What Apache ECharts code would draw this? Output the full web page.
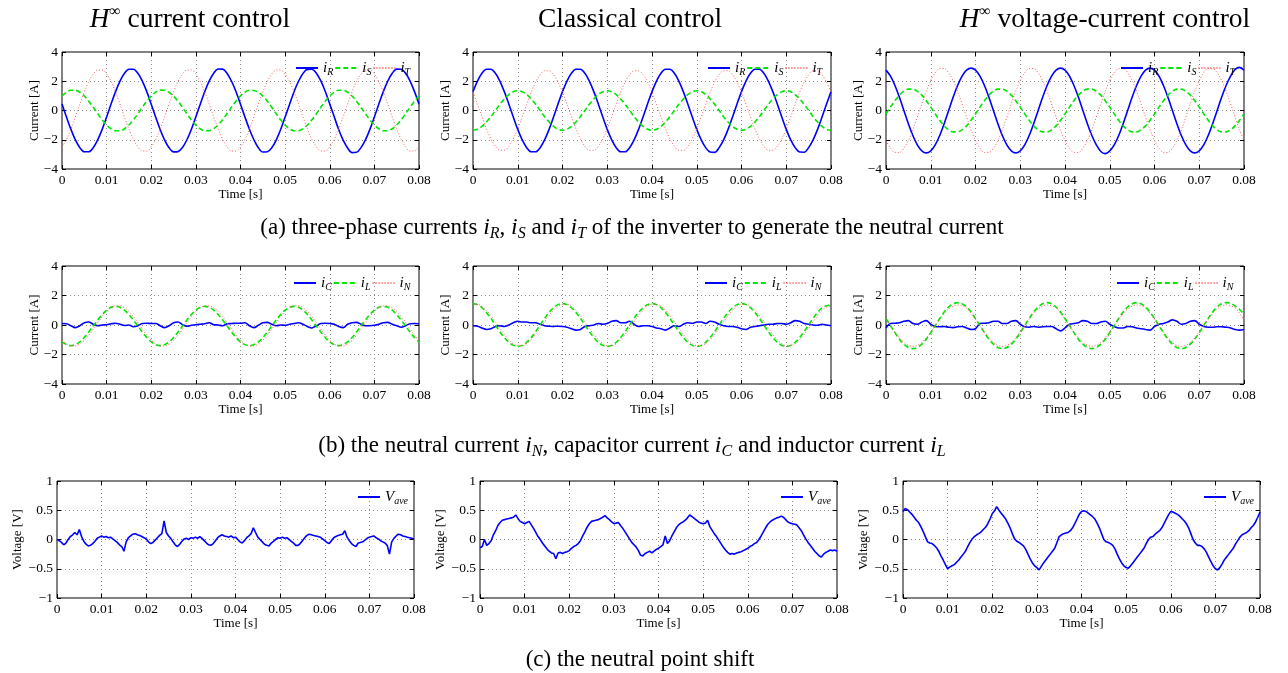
<!DOCTYPE html>
<html>
<head>
<meta charset="utf-8">
<script src="https://cdn.jsdelivr.net/npm/echarts@6/dist/echarts.min.js"></script>
<style>
html,body{margin:0;padding:0;background:#fff;}
#chart{width:1288px;height:673px;}
</style>
</head>
<body>
<div id="chart"></div>
<script>
// ---------------- texts & ticks ----------------
const columnTitles = ['{h|H}{p|∞} current control', 'Classical control', '{h|H}{p|∞} voltage-current control'];
const captionA = '(a) three-phase currents {i|i}{s|R}, {i|i}{s|S} and {i|i}{s|T} of the inverter to generate the neutral current';
const captionB = '(b) the neutral current {i|i}{s|N}, capacitor current {i|i}{s|C} and inductor current {i|i}{s|L}';
const captionC = '(c) the neutral point shift';
const xTickLabels = ['0', '0.01', '0.02', '0.03', '0.04', '0.05', '0.06', '0.07', '0.08'];
const currentTicks = [-4, -2, 0, 2, 4];
const voltageTicks = [-1, -0.5, 0, 0.5, 1];
const stepCurrent = 0.001;   // s, sampling of rows (a) and (b)
const stepShift = 0.0005;    // s, sampling of row (c)

// ---------------- (a) three-phase currents ----------------
const iR_hinf = [0.44,-0.44,-1.29,-2.01,-2.54,-2.82,-2.82,-2.54,-2.01,-1.29,-0.44,0.44,1.29,2.01,2.54,2.82,2.82,2.54,2.01,1.29,
0.42,-0.46,-1.30,-2.02,-2.55,-2.83,-2.81,-2.53,-2.00,-1.28,-0.43,0.45,1.30,2.02,2.55,2.84,2.83,2.53,2.00,1.28,
0.43,-0.45,-1.28,-2.00,-2.55,-2.84,-2.82,-2.55,-2.02,-1.30,-0.45,0.43,1.28,2.00,2.53,2.81,2.82,2.55,2.02,1.30,
0.45,-0.43,-1.30,-2.03,-2.56,-2.88,-2.86,-2.54,-2.01,-1.29,-0.44,0.44,1.29,2.01,2.54,2.83,2.82,2.54,2.01,1.29,0.42];
const iS_hinf = [0.99,1.25,1.38,1.38,1.25,0.99,0.64,0.22,-0.22,-0.64,-0.99,-1.25,-1.38,-1.38,-1.25,-0.99,-0.64,-0.22,0.22,0.64,
0.99,1.26,1.39,1.38,1.24,0.98,0.63,0.21,-0.23,-0.65,-1.00,-1.26,-1.39,-1.38,-1.24,-0.98,-0.63,-0.21,0.23,0.65,
1.00,1.25,1.38,1.37,1.24,0.99,0.64,0.22,-0.22,-0.64,-0.99,-1.25,-1.38,-1.38,-1.25,-0.99,-0.64,-0.22,0.22,0.64,
0.99,1.25,1.38,1.38,1.25,0.99,0.64,0.22,-0.22,-0.64,-0.99,-1.25,-1.38,-1.38,-1.25,-0.99,-0.64,-0.22,0.22,0.64,0.99];
const iT_hinf = [-2.49,-1.98,-1.27,-0.44,0.44,1.27,1.98,2.49,2.77,2.77,2.49,1.98,1.27,0.44,-0.44,-1.27,-1.98,-2.49,-2.77,-2.77,
-2.49,-1.98,-1.27,-0.44,0.44,1.27,1.98,2.49,2.77,2.77,2.49,1.98,1.27,0.44,-0.44,-1.27,-1.98,-2.49,-2.77,-2.77,
-2.49,-1.98,-1.27,-0.44,0.44,1.27,1.98,2.49,2.77,2.77,2.49,1.98,1.27,0.44,-0.44,-1.27,-1.98,-2.49,-2.77,-2.77,
-2.49,-1.98,-1.27,-0.44,0.44,1.27,1.98,2.49,2.77,2.77,2.49,1.98,1.27,0.44,-0.44,-1.27,-1.98,-2.49,-2.77,-2.77,-2.49];

const iR_classic = [1.29,2.01,2.54,2.82,2.82,2.54,2.01,1.29,0.44,-0.44,-1.29,-2.01,-2.54,-2.82,-2.82,-2.54,-2.01,-1.29,-0.44,0.44,
1.29,2.01,2.54,2.82,2.82,2.54,2.01,1.29,0.44,-0.44,-1.29,-2.01,-2.54,-2.82,-2.82,-2.54,-2.01,-1.29,-0.44,0.44,
1.29,2.01,2.54,2.82,2.82,2.54,2.01,1.29,0.44,-0.44,-1.29,-2.01,-2.54,-2.84,-2.86,-2.54,-2.01,-1.29,-0.44,0.44,
1.29,2.01,2.54,2.82,2.82,2.54,2.01,1.29,0.44,-0.44,-1.29,-2.01,-2.54,-2.84,-2.85,-2.54,-2.01,-1.29,-0.44,0.44,1.29];
const iS_classic = [-1.35,-1.28,-1.09,-0.79,-0.42,0.00,0.42,0.79,1.09,1.28,1.35,1.28,1.09,0.79,0.42,0.00,-0.42,-0.79,-1.09,-1.28,
-1.35,-1.28,-1.09,-0.79,-0.42,0.00,0.42,0.79,1.09,1.28,1.35,1.28,1.09,0.79,0.42,0.00,-0.42,-0.79,-1.09,-1.28,
-1.35,-1.28,-1.09,-0.79,-0.42,0.00,0.42,0.79,1.09,1.28,1.35,1.28,1.09,0.79,0.42,0.00,-0.42,-0.79,-1.09,-1.28,
-1.35,-1.28,-1.09,-0.79,-0.42,0.00,0.42,0.79,1.09,1.28,1.35,1.28,1.09,0.79,0.42,0.00,-0.42,-0.79,-1.09,-1.28,-1.35];
const iT_classic = [1.25,0.43,-0.43,-1.25,-1.94,-2.45,-2.72,-2.72,-2.45,-1.94,-1.25,-0.43,0.43,1.25,1.94,2.45,2.72,2.72,2.45,1.94,
1.25,0.43,-0.43,-1.25,-1.94,-2.45,-2.72,-2.72,-2.45,-1.94,-1.25,-0.43,0.43,1.25,1.94,2.45,2.72,2.72,2.45,1.94,
1.25,0.43,-0.43,-1.25,-1.94,-2.45,-2.72,-2.72,-2.45,-1.94,-1.25,-0.43,0.43,1.25,1.94,2.45,2.72,2.72,2.45,1.94,
1.25,0.43,-0.43,-1.25,-1.94,-2.45,-2.72,-2.72,-2.45,-1.94,-1.25,-0.43,0.43,1.25,1.94,2.45,2.72,2.72,2.45,1.94,1.25];

const iR_vc = [2.76,2.35,1.71,0.90,0.00,-0.90,-1.71,-2.35,-2.76,-2.90,-2.76,-2.35,-1.71,-0.90,0.00,0.90,1.71,2.35,2.76,2.90,
2.76,2.35,1.71,0.90,0.00,-0.90,-1.71,-2.35,-2.76,-2.90,-2.76,-2.35,-1.71,-0.90,0.00,0.90,1.71,2.35,2.76,2.90,
2.76,2.35,1.71,0.90,0.00,-0.90,-1.71,-2.35,-2.80,-2.95,-2.76,-2.35,-1.71,-0.90,0.00,0.90,1.71,2.35,2.76,2.90,
2.76,2.35,1.71,0.90,0.00,-0.90,-1.71,-2.35,-2.76,-2.90,-2.76,-2.35,-1.71,-0.90,0.00,0.90,1.71,2.35,2.80,2.95,2.76];
const iS_vc = [-0.23,0.23,0.67,1.05,1.32,1.46,1.46,1.32,1.05,0.67,0.23,-0.23,-0.67,-1.05,-1.32,-1.46,-1.46,-1.32,-1.05,-0.67,
-0.23,0.23,0.67,1.05,1.32,1.46,1.46,1.32,1.05,0.67,0.23,-0.23,-0.67,-1.05,-1.32,-1.46,-1.46,-1.32,-1.05,-0.67,
-0.23,0.23,0.67,1.05,1.32,1.46,1.46,1.32,1.05,0.67,0.23,-0.23,-0.67,-1.05,-1.32,-1.46,-1.46,-1.32,-1.05,-0.67,
-0.23,0.23,0.67,1.05,1.32,1.46,1.46,1.32,1.05,0.67,0.23,-0.23,-0.67,-1.05,-1.32,-1.46,-1.46,-1.32,-1.05,-0.67,-0.23];
const iT_vc = [-2.05,-2.58,-2.87,-2.87,-2.58,-2.05,-1.32,-0.45,0.45,1.32,2.05,2.58,2.87,2.87,2.58,2.05,1.32,0.45,-0.45,-1.32,
-2.05,-2.58,-2.87,-2.87,-2.58,-2.05,-1.32,-0.45,0.45,1.32,2.05,2.58,2.87,2.87,2.58,2.05,1.32,0.45,-0.45,-1.32,
-2.05,-2.58,-2.87,-2.87,-2.58,-2.05,-1.32,-0.45,0.45,1.32,2.05,2.58,2.87,2.87,2.58,2.05,1.32,0.45,-0.45,-1.32,
-2.05,-2.58,-2.87,-2.87,-2.58,-2.05,-1.32,-0.45,0.45,1.32,2.05,2.58,2.87,2.87,2.58,2.05,1.32,0.45,-0.45,-1.32,-2.05];

// ---------------- (b) neutral, capacitor, inductor currents ----------------
const iC_hinf = [0.10,0.08,-0.05,-0.18,-0.05,0.15,0.20,0.05,-0.05,0.00,
0.02,0.08,0.12,0.05,-0.03,0.00,-0.12,-0.05,0.10,0.12,
0.10,0.10,-0.05,-0.18,-0.05,0.15,0.20,0.02,-0.08,-0.02,
0.02,0.05,0.08,0.15,0.02,0.00,-0.05,0.08,0.10,0.12,
0.12,0.15,-0.05,-0.18,-0.02,0.15,0.18,0.05,-0.05,0.00,
-0.02,0.05,0.10,0.15,0.05,-0.10,-0.20,-0.05,0.10,0.12,
0.10,0.05,-0.10,-0.18,0.05,0.15,0.18,0.05,-0.05,-0.05,
-0.02,0.05,0.15,0.18,0.05,-0.05,-0.15,-0.05,0.08,0.10,0.08];
const iL_hinf = [-1.15,-1.33,-1.40,-1.33,-1.15,-0.85,-0.48,-0.07,0.34,0.71,1.01,1.20,1.26,1.20,1.01,0.71,0.34,-0.07,-0.48,-0.85,
-1.15,-1.33,-1.40,-1.33,-1.15,-0.85,-0.48,-0.07,0.34,0.71,1.01,1.20,1.26,1.20,1.01,0.71,0.34,-0.07,-0.48,-0.85,
-1.15,-1.33,-1.40,-1.33,-1.15,-0.85,-0.48,-0.07,0.34,0.71,1.01,1.20,1.26,1.20,1.01,0.71,0.34,-0.07,-0.48,-0.85,
-1.15,-1.33,-1.40,-1.33,-1.15,-0.85,-0.48,-0.07,0.34,0.71,1.01,1.20,1.26,1.20,1.01,0.71,0.34,-0.07,-0.48,-0.85,-1.15];
const iN_hinf = [-1.04,-1.29,-1.42,-1.42,-1.29,-1.04,-0.69,-0.28,0.16,0.57,0.92,1.17,1.30,1.30,1.17,0.92,0.57,0.16,-0.28,-0.69,
-1.04,-1.29,-1.42,-1.42,-1.29,-1.04,-0.69,-0.28,0.16,0.57,0.92,1.17,1.30,1.30,1.17,0.92,0.57,0.16,-0.28,-0.69,
-1.04,-1.29,-1.42,-1.42,-1.29,-1.04,-0.69,-0.28,0.16,0.57,0.92,1.17,1.30,1.30,1.17,0.92,0.57,0.16,-0.28,-0.69,
-1.04,-1.29,-1.42,-1.42,-1.29,-1.04,-0.69,-0.28,0.16,0.57,0.92,1.17,1.30,1.30,1.17,0.92,0.57,0.16,-0.28,-0.69,-1.04];

const iC_classic = [-0.05,-0.08,-0.20,-0.30,-0.25,-0.10,-0.05,-0.10,0.00,0.15,
0.25,0.20,0.20,0.15,0.15,0.05,-0.05,-0.08,-0.10,-0.08,
-0.10,-0.15,-0.25,-0.35,-0.30,-0.10,-0.05,0.00,0.10,0.05,
0.10,0.25,0.30,0.15,0.15,0.25,0.05,-0.10,-0.05,-0.05,
-0.10,-0.20,-0.25,-0.35,-0.20,-0.05,-0.10,0.05,0.15,0.12,
0.20,0.20,0.10,0.25,0.20,0.05,-0.05,-0.10,-0.10,-0.15,
-0.25,-0.30,-0.15,-0.10,-0.05,0.00,0.05,0.05,0.10,0.10,
0.05,0.15,0.30,0.25,0.10,0.05,0.00,-0.02,0.05,0.00,-0.05];
const iL_classic = [1.45,1.38,1.17,0.85,0.45,0.00,-0.45,-0.85,-1.17,-1.38,-1.45,-1.38,-1.17,-0.85,-0.45,0.00,0.45,0.85,1.17,1.38,
1.45,1.38,1.17,0.85,0.45,0.00,-0.45,-0.85,-1.17,-1.38,-1.45,-1.38,-1.17,-0.85,-0.45,0.00,0.45,0.85,1.17,1.38,
1.45,1.38,1.17,0.85,0.45,0.00,-0.45,-0.85,-1.17,-1.38,-1.45,-1.38,-1.17,-0.85,-0.45,0.00,0.45,0.85,1.17,1.38,
1.45,1.38,1.17,0.85,0.45,0.00,-0.45,-0.85,-1.17,-1.38,-1.45,-1.38,-1.17,-0.85,-0.45,0.00,0.45,0.85,1.17,1.30,1.35];
const iN_classic = [1.40,1.40,1.27,1.00,0.64,0.22,-0.22,-0.64,-1.00,-1.27,-1.40,-1.40,-1.27,-1.00,-0.64,-0.22,0.22,0.64,1.00,1.27,
1.40,1.40,1.27,1.00,0.64,0.22,-0.22,-0.64,-1.00,-1.27,-1.40,-1.40,-1.27,-1.00,-0.64,-0.22,0.22,0.64,1.00,1.27,
1.40,1.40,1.27,1.00,0.64,0.22,-0.22,-0.64,-1.00,-1.27,-1.40,-1.40,-1.27,-1.00,-0.64,-0.22,0.22,0.64,1.00,1.27,
1.40,1.40,1.27,1.00,0.64,0.22,-0.22,-0.64,-1.00,-1.27,-1.40,-1.40,-1.27,-1.00,-0.64,-0.22,0.22,0.64,1.00,1.22,1.30];

const iC_vc = [-0.20,0.10,0.12,0.15,0.25,0.30,0.10,0.05,0.20,0.30,
0.05,-0.10,-0.12,-0.10,-0.15,-0.18,-0.12,-0.10,-0.20,-0.30,
-0.25,0.10,0.12,0.15,0.25,0.25,0.10,0.10,0.25,0.30,
0.05,-0.12,-0.15,-0.10,-0.15,-0.12,-0.10,-0.10,-0.25,-0.40,
-0.20,0.05,0.10,0.15,0.30,0.25,0.10,0.10,0.20,0.25,
0.05,-0.10,-0.20,-0.20,-0.10,-0.12,-0.20,-0.25,-0.30,-0.35,
-0.10,0.05,0.10,0.20,0.35,0.25,0.05,0.10,0.25,0.30,
0.05,-0.10,-0.15,-0.15,-0.12,-0.12,-0.15,-0.20,-0.30,-0.35,-0.30];
const iL_vc = [0.44,-0.04,-0.52,-0.96,-1.30,-1.52,-1.60,-1.52,-1.30,-0.96,-0.52,-0.04,0.44,0.88,1.22,1.44,1.52,1.44,1.22,0.88,
0.44,-0.04,-0.52,-0.96,-1.30,-1.52,-1.60,-1.52,-1.30,-0.96,-0.52,-0.04,0.44,0.88,1.22,1.44,1.52,1.44,1.22,0.88,
0.44,-0.04,-0.52,-0.96,-1.30,-1.52,-1.60,-1.52,-1.30,-0.96,-0.52,-0.04,0.44,0.88,1.22,1.44,1.52,1.44,1.22,0.88,
0.44,-0.04,-0.52,-0.96,-1.30,-1.52,-1.60,-1.52,-1.30,-0.96,-0.52,-0.04,0.44,0.88,1.22,1.44,1.52,1.48,1.28,1.05,0.75];
const iN_vc = [0.38,-0.05,-0.48,-0.87,-1.18,-1.38,-1.45,-1.38,-1.18,-0.87,-0.48,-0.05,0.38,0.77,1.08,1.28,1.35,1.30,1.15,0.80,
0.38,-0.05,-0.48,-0.87,-1.18,-1.38,-1.45,-1.38,-1.18,-0.87,-0.48,-0.05,0.38,0.77,1.08,1.28,1.35,1.30,1.15,0.80,
0.38,-0.05,-0.48,-0.87,-1.18,-1.38,-1.45,-1.38,-1.18,-0.87,-0.48,-0.05,0.38,0.77,1.08,1.28,1.35,1.30,1.15,0.80,
0.38,-0.05,-0.48,-0.87,-1.18,-1.38,-1.45,-1.38,-1.18,-0.87,-0.48,-0.05,0.38,0.77,1.08,1.28,1.35,1.30,1.15,0.80,0.35];

// ---------------- (c) neutral point shift (0.5 ms samples) ----------------
const vAve_hinf = [0.00,-0.02,-0.05,-0.09,-0.06,0.00,0.05,0.08,0.12,0.08,
0.17,0.05,-0.03,-0.08,-0.11,-0.10,-0.07,-0.03,0.02,0.04,
0.06,0.04,0.05,0.03,0.04,0.01,-0.02,-0.05,-0.09,-0.12,
-0.20,-0.04,0.03,0.06,0.09,0.10,0.08,0.07,0.05,0.03,
0.01,-0.04,-0.07,-0.05,-0.01,0.03,0.07,0.10,0.32,0.12,
0.06,0.02,-0.04,-0.09,-0.12,-0.08,-0.03,0.01,0.02,0.00,
0.03,0.02,0.04,0.02,0.05,0.02,-0.02,-0.06,-0.09,-0.10,
-0.07,-0.02,0.03,0.06,0.08,0.06,0.05,0.04,0.06,0.03,
0.04,0.00,-0.04,-0.06,-0.02,0.03,0.06,0.10,0.20,0.12,
0.04,0.00,-0.04,-0.08,-0.10,-0.11,-0.06,-0.03,0.00,0.03,
0.02,0.04,0.02,0.03,0.00,-0.03,-0.06,-0.10,-0.10,-0.07,
-0.02,0.03,0.07,0.09,0.08,0.07,0.06,0.05,0.04,0.01,
-0.02,-0.05,-0.07,-0.02,0.03,0.05,0.07,0.08,0.09,0.15,
0.04,-0.02,-0.07,-0.10,-0.12,-0.06,-0.05,-0.04,-0.01,0.02,
0.04,0.05,0.06,0.03,0.01,-0.02,-0.04,-0.06,-0.10,-0.25,
-0.04,0.02,0.06,0.09,0.08,0.06,0.05,0.04,0.03,0.02,0.01];
const vAve_classic = [-0.14,-0.12,0.00,-0.10,-0.07,-0.02,0.08,0.15,0.24,0.29,
0.33,0.34,0.35,0.36,0.37,0.38,0.42,0.36,0.31,0.29,
0.27,0.29,0.31,0.25,0.19,0.12,0.05,0.00,-0.06,-0.11,
-0.16,-0.20,-0.23,-0.24,-0.33,-0.23,-0.22,-0.24,-0.22,-0.21,
-0.19,-0.15,-0.12,-0.10,-0.07,-0.02,0.06,0.13,0.21,0.27,
0.31,0.32,0.33,0.34,0.36,0.38,0.41,0.37,0.34,0.30,
0.27,0.28,0.29,0.24,0.19,0.13,0.07,0.01,-0.05,-0.09,
-0.13,-0.19,-0.27,-0.28,-0.24,-0.22,-0.20,-0.23,-0.20,-0.17,
-0.15,-0.12,-0.09,0.06,-0.07,-0.02,0.06,0.13,0.20,0.25,
0.28,0.30,0.33,0.37,0.42,0.39,0.36,0.33,0.30,0.28,
0.27,0.28,0.33,0.22,0.16,0.10,0.05,-0.01,-0.07,-0.13,
-0.18,-0.22,-0.25,-0.24,-0.25,-0.23,-0.22,-0.21,-0.19,-0.17,
-0.15,-0.12,-0.10,-0.07,-0.05,0.00,0.06,0.13,0.20,0.26,
0.30,0.33,0.35,0.37,0.38,0.40,0.38,0.34,0.30,0.28,
0.27,0.26,0.25,0.20,0.15,0.08,0.01,-0.05,-0.10,-0.15,
-0.20,-0.24,-0.28,-0.30,-0.25,-0.22,-0.20,-0.18,-0.19,-0.18,-0.20];
const vAve_vc = [0.48,0.53,0.51,0.47,0.43,0.38,0.33,0.29,0.22,0.14,
0.05,-0.04,-0.06,-0.07,-0.10,-0.14,-0.20,-0.28,-0.35,-0.43,
-0.50,-0.47,-0.45,-0.43,-0.39,-0.35,-0.30,-0.25,-0.20,-0.12,
-0.05,0.01,0.05,0.08,0.10,0.13,0.17,0.21,0.27,0.35,
0.44,0.49,0.56,0.50,0.45,0.40,0.35,0.28,0.20,0.10,
0.01,-0.03,-0.05,-0.08,-0.11,-0.17,-0.25,-0.33,-0.40,-0.45,
-0.48,-0.52,-0.46,-0.40,-0.35,-0.30,-0.25,-0.20,-0.15,-0.05,
0.05,0.08,0.10,0.11,0.12,0.15,0.20,0.27,0.35,0.43,
0.48,0.49,0.48,0.45,0.42,0.39,0.35,0.28,0.20,0.10,
0.00,-0.04,-0.05,-0.07,-0.10,-0.16,-0.25,-0.33,-0.40,-0.45,
-0.48,-0.49,-0.45,-0.40,-0.35,-0.30,-0.25,-0.20,-0.15,-0.07,
0.00,0.04,0.05,0.09,0.12,0.15,0.20,0.27,0.35,0.42,
0.48,0.47,0.45,0.43,0.40,0.36,0.32,0.27,0.20,0.10,
0.00,-0.06,-0.10,-0.10,-0.12,-0.16,-0.22,-0.30,-0.38,-0.45,
-0.50,-0.52,-0.48,-0.42,-0.35,-0.30,-0.25,-0.20,-0.15,-0.08,
-0.02,0.04,0.08,0.10,0.12,0.15,0.20,0.24,0.30,0.38,0.47];

// ---------------- layout & styles ----------------
const FONT = 'Liberation Serif';
const panels = [
  {box:[62,52,357,117],  kind:'current', step:stepCurrent, legend:[295,68],  series:[['R',iR_hinf],['S',iS_hinf],['T',iT_hinf]]},
  {box:[473,52,358,117], kind:'current', step:stepCurrent, legend:[707,68],  series:[['R',iR_classic],['S',iS_classic],['T',iT_classic]]},
  {box:[886,52,358,117], kind:'current', step:stepCurrent, legend:[1120,68], series:[['R',iR_vc],['S',iS_vc],['T',iT_vc]]},
  {box:[62,266,357,118], kind:'current', step:stepCurrent, legend:[293,283], series:[['C',iC_hinf],['L',iL_hinf],['N',iN_hinf]]},
  {box:[473,266,358,118],kind:'current', step:stepCurrent, legend:[704,283], series:[['C',iC_classic],['L',iL_classic],['N',iN_classic]]},
  {box:[886,266,358,118],kind:'current', step:stepCurrent, legend:[1116,283],series:[['C',iC_vc],['L',iL_vc],['N',iN_vc]]},
  {box:[57,481,357,117], kind:'voltage', step:stepShift, legend:[357,497],  series:[['ave',vAve_hinf]]},
  {box:[480,481,357,117],kind:'voltage', step:stepShift, legend:[780,497],  series:[['ave',vAve_classic]]},
  {box:[903,481,357,117],kind:'voltage', step:stepShift, legend:[1203,497], series:[['ave',vAve_vc]]}
];
const styleByKey = {
  R:{color:'#0000ff', width:1.6, type:'solid'}, C:{color:'#0000ff', width:1.6, type:'solid'}, ave:{color:'#0000ff', width:1.6, type:'solid'},
  S:{color:'#00e600', width:1.6, type:[5,3]},  L:{color:'#00e600', width:1.6, type:[5,3]},
  T:{color:'#ff5a5a', width:1,   type:[1,2]},  N:{color:'#ff5a5a', width:1,   type:[1,2]}
};
const minusFmt = v => (v < 0 ? '\u2212' + Math.abs(v) : String(v));
const legendRich = {
  i:{fontFamily:FONT, fontStyle:'italic', fontSize:15, lineHeight:18, color:'#000'},
  v:{fontFamily:FONT, fontStyle:'italic', fontSize:15, lineHeight:18, color:'#000'},
  s:{fontFamily:FONT, fontStyle:'italic', fontSize:10, lineHeight:10, verticalAlign:'bottom', color:'#000'}
};
const tickStyle = {show:true, inside:true, length:4, lineStyle:{color:'#000', width:1}};

const grids = [], xAxes = [], yAxes = [], series = [], legends = [];
panels.forEach((p, gi) => {
  const [l, t, w, h] = p.box;
  grids.push({left:l, top:t, width:w, height:h, show:true, borderColor:'#000', borderWidth:1,
              backgroundColor:'transparent', containLabel:false, outerBoundsMode:'none'});
  const ticks = p.kind === 'current' ? currentTicks : voltageTicks;
  const yMin = ticks[0], yMax = ticks[ticks.length - 1], yInt = ticks[1] - ticks[0];
  const axisFont = {fontFamily:FONT, fontSize:13.5, color:'#000'};
  // bottom x axis
  xAxes.push({gridIndex:gi, type:'value', min:0, max:0.08, interval:0.01, position:'bottom',
    axisLine:{show:false, onZero:false}, axisTick:tickStyle,
    axisLabel:Object.assign({margin:4, showMinLabel:true, showMaxLabel:true, hideOverlap:false,
      formatter:v => xTickLabels[Math.round(v / 0.01)]}, axisFont),
    splitLine:{show:true, lineStyle:{color:'#8c8c8c', width:1, type:[1,3]}},
    name:'Time [s]', nameLocation:'middle', nameGap:19, nameMoveOverlap:false,
    nameTextStyle:{fontFamily:FONT, fontSize:13, color:'#000'}});
  // top x axis (ticks only)
  xAxes.push({gridIndex:gi, type:'value', min:0, max:0.08, interval:0.01, position:'top',
    axisLine:{show:false, onZero:false}, axisTick:tickStyle,
    axisLabel:{show:false}, splitLine:{show:false}});
  // left y axis
  yAxes.push({gridIndex:gi, type:'value', min:yMin, max:yMax, interval:yInt, position:'left',
    axisLine:{show:false, onZero:false}, axisTick:tickStyle,
    axisLabel:Object.assign({margin:4, formatter:minusFmt, showMinLabel:true, showMaxLabel:true}, axisFont),
    splitLine:{show:true, lineStyle:{color:'#8c8c8c', width:1, type:[1,3]}},
    name:p.kind === 'current' ? 'Current [A]' : 'Voltage [V]', nameLocation:'middle',
    nameGap:p.kind === 'current' ? 21 : 33, nameMoveOverlap:false,
    nameTextStyle:{fontFamily:FONT, fontSize:13, color:'#000'}});
  // right y axis (ticks only)
  yAxes.push({gridIndex:gi, type:'value', min:yMin, max:yMax, interval:yInt, position:'right',
    axisLine:{show:false, onZero:false}, axisTick:tickStyle,
    axisLabel:{show:false}, splitLine:{show:false}});
  const names = [];
  p.series.forEach(([key, vals]) => {
    const name = 'p' + gi + '_' + key;
    names.push(name);
    const st = styleByKey[key];
    series.push({type:'line', name, xAxisIndex:gi * 2, yAxisIndex:gi * 2,
      data:vals.map((v, k) => [+(k * p.step).toFixed(5), v]),
      showSymbol:false, symbol:'none', smooth:p.kind === 'current' ? 0.35 : false,
      lineStyle:{color:st.color, width:st.width, type:st.type}, itemStyle:{color:st.color},
      animation:false, silent:true, clip:true});
  });
  legends.push({left:p.legend[0], top:p.legend[1] - 9, orient:'horizontal', padding:0,
    itemWidth:22, itemHeight:10, itemGap:1, selectedMode:false, data:names,
    itemStyle:{color:'rgba(0,0,0,0)', borderColor:'rgba(0,0,0,0)', borderWidth:0},
    formatter:n => { const k = n.split('_')[1]; return k === 'ave' ? '{v|V}{s|ave}' : '{i|i}{s|' + k + '}'; },
    textStyle:{fontFamily:FONT, fontSize:15, color:'#000', lineHeight:18, rich:legendRich}});
});

const titleRich = {
  h:{fontFamily:FONT, fontStyle:'italic', fontSize:27, lineHeight:32, fill:'#000'},
  p:{fontFamily:FONT, fontSize:16, lineHeight:16, verticalAlign:'top', fill:'#000'}
};
const capRich = {
  i:{fontFamily:FONT, fontStyle:'italic', fontSize:24, lineHeight:27, fill:'#000'},
  s:{fontFamily:FONT, fontStyle:'italic', fontSize:16, lineHeight:13, verticalAlign:'bottom', fill:'#000'}
};
const titleX = [190, 630, 1105];
const graphics = columnTitles.map((txt, i) => ({type:'text', x:titleX[i], y:20, silent:true,
  style:{text:txt, fontFamily:FONT, fontSize:27.5, lineHeight:32, fill:'#000', align:'center', verticalAlign:'middle', rich:titleRich}}));
[[captionA, 632, 228], [captionB, 632, 446], [captionC, 640, 660]].forEach(([txt, x, y]) => {
  graphics.push({type:'text', x, y, silent:true,
    style:{text:txt, fontFamily:FONT, fontSize:23, lineHeight:27, fill:'#000', align:'center', verticalAlign:'middle', rich:capRich}});
});

const chart = echarts.init(document.getElementById('chart'), null, {renderer:'canvas', width:1288, height:673});
chart.setOption({
  animation:false,
  backgroundColor:'#ffffff',
  grid:grids, xAxis:xAxes, yAxis:yAxes, series, legend:legends, graphic:graphics
});
</script>
</body>
</html>
